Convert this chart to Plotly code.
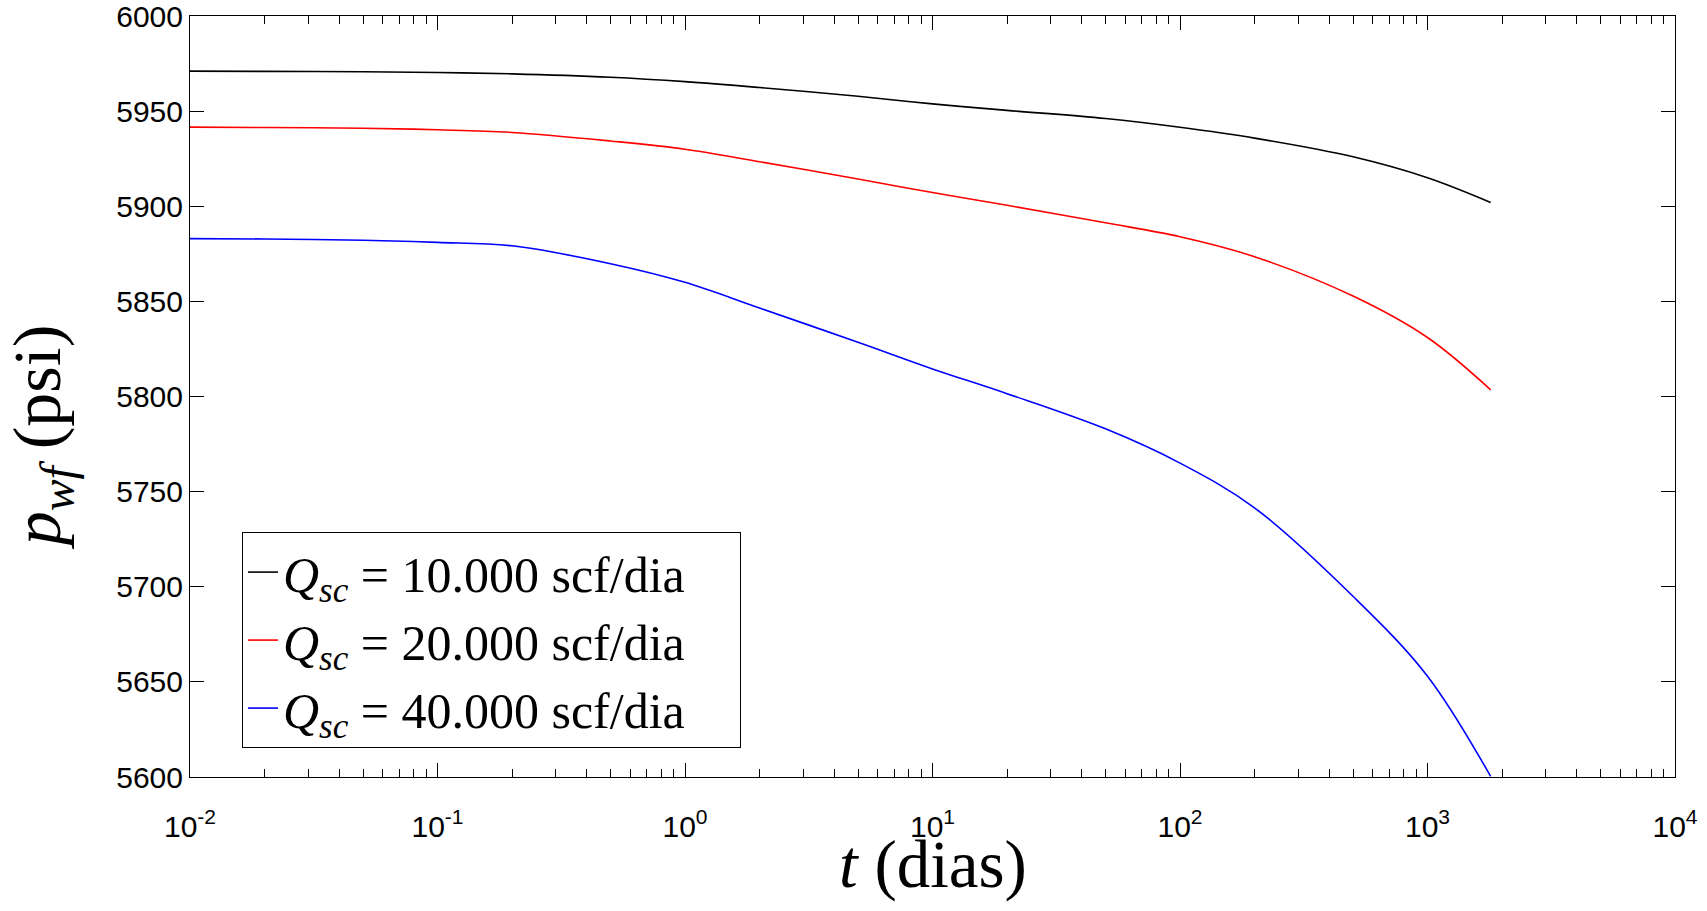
import plotly.graph_objects as go

# time (days) and bottom-hole pressure (psi)
t_dias = [0.01, 0.02, 0.05, 0.1, 0.2, 0.5, 1, 2, 5, 10, 20, 50, 100, 200, 500, 1000, 1800]
pwf_10k = [5971.0, 5970.9, 5970.7, 5970.3, 5969.6, 5967.8, 5965.5, 5962.4, 5957.8, 5953.8,
           5950.4, 5946.1, 5941.5, 5935.8, 5926.0, 5915.0, 5902.0]
pwf_20k = [5941.6, 5941.4, 5941.0, 5940.2, 5938.8, 5934.3, 5930.0, 5923.4, 5914.3, 5907.2,
           5900.5, 5891.3, 5884.0, 5873.5, 5852.8, 5831.0, 5803.5]
pwf_40k = [5883.0, 5882.8, 5882.1, 5881.0, 5879.2, 5869.8, 5860.0, 5846.5, 5828.5, 5814.5,
           5801.5, 5783.0, 5765.0, 5741.5, 5695.0, 5653.0, 5600.3]

series_names = ["10.000", "20.000", "40.000"]
series_colors = ["black", "red", "blue"]

x_tickvals = [1e-2, 1e-1, 1e0, 1e1, 1e2, 1e3, 1e4]
x_ticktext = ["10<sup>-2</sup>", "10<sup>-1</sup>", "10<sup>0</sup>", "10<sup>1</sup>",
              "10<sup>2</sup>", "10<sup>3</sup>", "10<sup>4</sup>"]

serif = "Liberation Serif"
sans = "Liberation Sans"

fig = go.Figure()
for name, color, y in zip(series_names, series_colors, [pwf_10k, pwf_20k, pwf_40k]):
    fig.add_trace(go.Scatter(
        x=t_dias, y=y, mode="lines",
        line=dict(color=color, width=1.6, shape="spline", smoothing=1.0),
        # trailing em space gives the legend box its right-hand padding
        name="<i>Q</i><sub><i>sc</i></sub> = " + name + " scf/dia\u2003",
    ))

fig.update_layout(
    width=1707, height=911,
    margin=dict(l=190, r=32, t=16, b=134),
    paper_bgcolor="white", plot_bgcolor="white",
    showlegend=True,
    legend=dict(
        x=0.035, y=0.038, xanchor="left", yanchor="bottom",
        bgcolor="white", bordercolor="black", borderwidth=1,
        font=dict(family=serif, size=50, color="black"),
        tracegroupgap=0,
    ),
    xaxis=dict(
        type="log", range=[-2, 4], automargin=False,
        tickvals=x_tickvals, ticktext=x_ticktext,
        ticks="inside", ticklen=14, tickcolor="black", tickwidth=1,
        minor=dict(ticks="inside", ticklen=8, tickcolor="black", dtick="D1", showgrid=False),
        showline=True, linecolor="black", linewidth=1, mirror="ticks",
        showgrid=False, zeroline=False,
        tickfont=dict(family=sans, size=30, color="black"),
        ticklabelstandoff=23, ticklabeloverflow="allow",
    ),
    yaxis=dict(
        range=[5600, 6000], dtick=50, automargin=False,
        ticks="inside", ticklen=14, tickcolor="black", tickwidth=1,
        showline=True, linecolor="black", linewidth=1, mirror="ticks",
        showgrid=False, zeroline=False,
        tickfont=dict(family=sans, size=30, color="black"),
        ticklabelstandoff=0, ticklabeloverflow="allow",
    ),
)

# axis titles as annotations so they can sit exactly where the original has them
fig.add_annotation(
    text="<i>t</i> (dias)",
    xref="paper", yref="paper", x=0.5, y=-0.115,
    xanchor="center", yanchor="middle", showarrow=False,
    font=dict(family=serif, size=67, color="black"),
)
fig.add_annotation(
    text="<i>p</i><sub><i>wf</i></sub> (psi)", textangle=-90,
    xref="paper", yref="paper", x=-0.1, y=0.447,
    xanchor="center", yanchor="middle", showarrow=False,
    font=dict(family=serif, size=68, color="black"),
)

# drop the default page margin so the figure sits at the window's top-left corner
fig.write_html("out.html", config={"displayModeBar": False},
               post_script="document.body.style.margin = '0px';")
